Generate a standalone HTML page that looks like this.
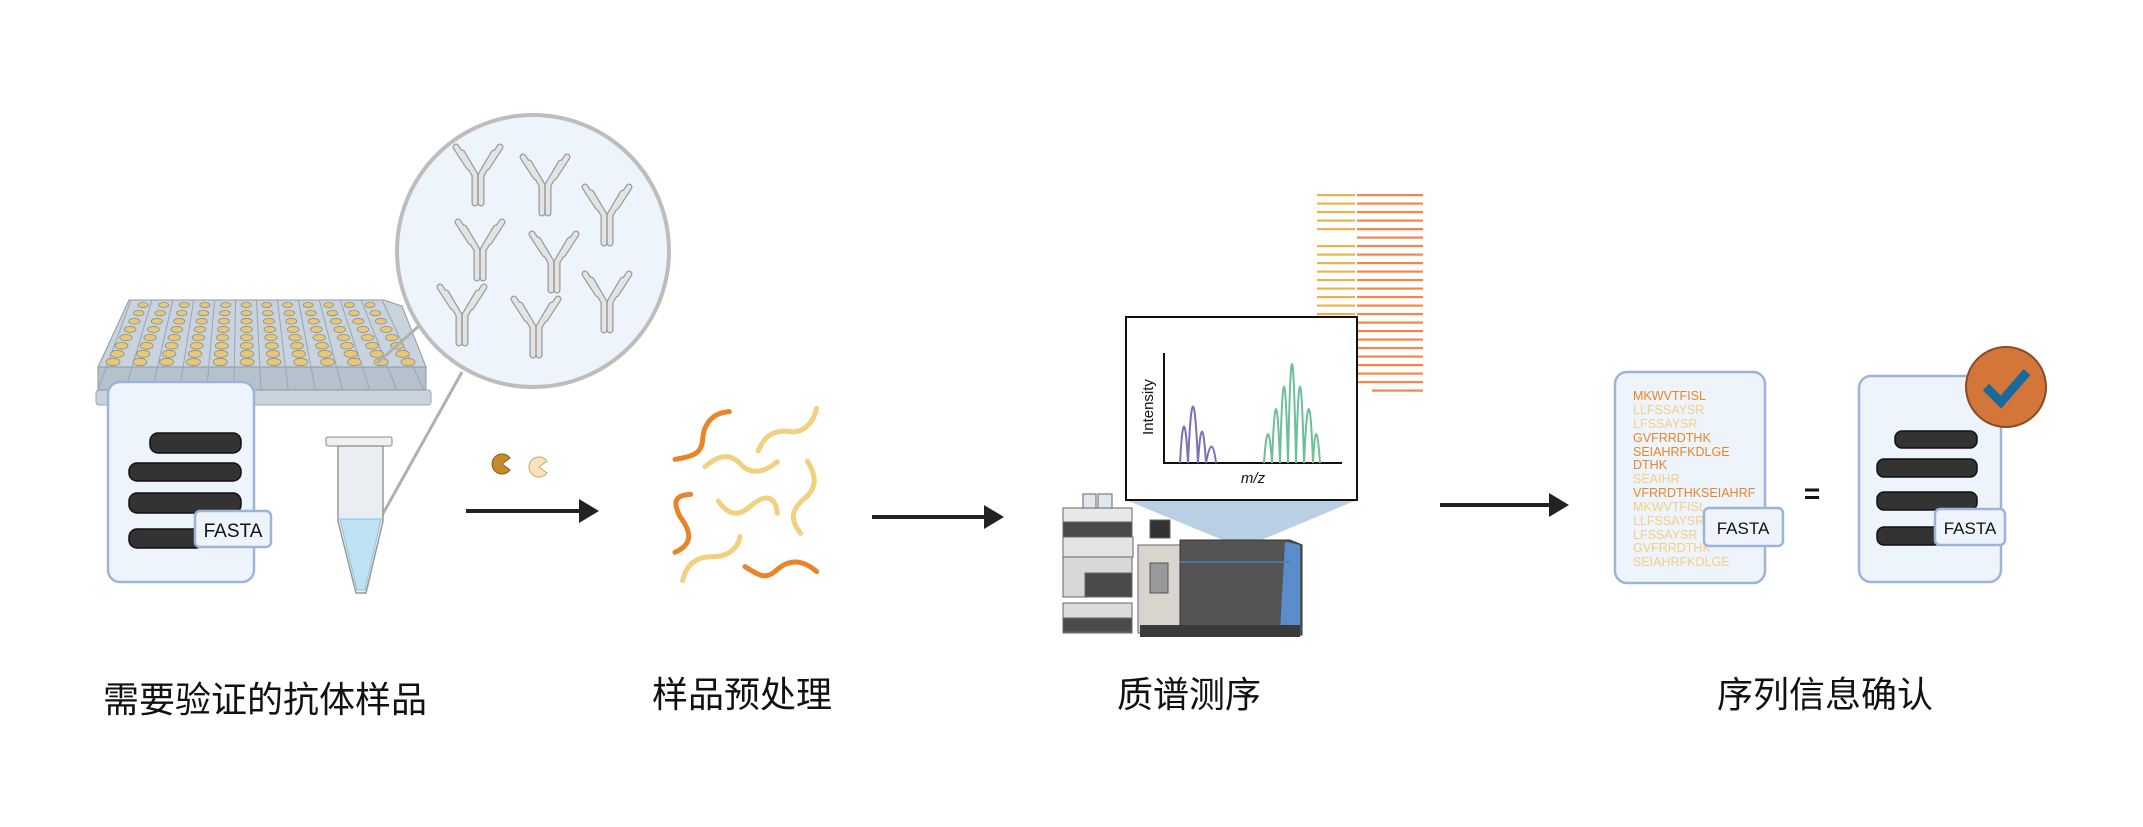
<!DOCTYPE html>
<html><head><meta charset="utf-8"><style>
html,body{margin:0;padding:0;background:#fff;}
svg{display:block;}
text{font-family:"Liberation Sans","Noto Sans CJK SC",sans-serif;}
</style></head><body>
<svg width="2143" height="827" viewBox="0 0 2143 827" xmlns="http://www.w3.org/2000/svg">
<defs>
<g id="ab">
  <g fill="none" stroke="#9a9a9a" stroke-width="7" stroke-linecap="round">
    <path d="M-3,2 V30 M3,2 V30 M-3,2 L-16,-20 M3,2 L16,-20 M-9,-6 L-22,-26 M9,-6 L22,-26"/>
  </g>
  <g fill="none" stroke="#e4e4e4" stroke-width="4.5" stroke-linecap="round">
    <path d="M-3,2 V30 M3,2 V30 M-3,2 L-16,-20 M3,2 L16,-20 M-9,-6 L-22,-26 M9,-6 L22,-26"/>
  </g>
</g>
<marker id="ah" markerWidth="20" markerHeight="24" refX="1" refY="12" orient="auto" markerUnits="userSpaceOnUse"><path d="M0,0 L20,12 L0,24z" fill="#222"/></marker>
</defs>

<!-- plate -->
<rect x="96" y="390" width="335" height="15" rx="3" fill="#c9d3dc" stroke="#9aa6b2"/>
<path d="M98,367 L426,367 L426,390 L98,390z" fill="#b5c1cc" stroke="#8c99a6"/>
<path d="M129,300 L384,300 L402,306 L426,367 L98,367z" fill="#c8d3dd" stroke="#8c99a6"/>
<g id="divs" stroke="#98a5b2" stroke-width="1"></g>
<g id="wells"></g>
<!-- circle and lines -->
<line x1="377" y1="363" x2="420" y2="325" stroke="#b0b0b0" stroke-width="3"/>
<line x1="462" y1="372" x2="375" y2="528" stroke="#b0b0b0" stroke-width="3"/>
<circle cx="533" cy="251" r="136" fill="#eef4fb" stroke="#bdbdbd" stroke-width="4"/>
<use href="#ab" x="478" y="173"/><use href="#ab" x="545" y="183"/><use href="#ab" x="607" y="213"/>
<use href="#ab" x="480" y="248"/><use href="#ab" x="554" y="260"/><use href="#ab" x="607" y="300"/>
<use href="#ab" x="462" y="313"/><use href="#ab" x="536" y="325"/>

<!-- doc card left -->
<rect x="108" y="382" width="146" height="200" rx="12" fill="#eef4fb" stroke="#9fb3da" stroke-width="2.5"/>
<rect x="150" y="433" width="91" height="20" rx="8" fill="#333" stroke="#111" stroke-width="1.5"/>
<rect x="129" y="463" width="112" height="18" rx="8" fill="#333" stroke="#111" stroke-width="1.5"/>
<rect x="129" y="493" width="112" height="20" rx="8" fill="#333" stroke="#111" stroke-width="1.5"/>
<rect x="129" y="529" width="75" height="19" rx="8" fill="#333" stroke="#111" stroke-width="1.5"/>
<rect x="195" y="511" width="76" height="36" rx="5" fill="#eef4fb" stroke="#9fb3da" stroke-width="2.5"/>
<text x="233" y="537" font-size="19" text-anchor="middle" fill="#111">FASTA</text>

<!-- tube -->
<rect x="326" y="437" width="66" height="9" rx="2" fill="#eef2f4" stroke="#888"/>
<path d="M338,446 L383,446 L383,521 L366,593 L356,593 L338,521z" fill="#e8eef1" stroke="#999" stroke-width="1.5"/>
<path d="M340,519 L381,519 L365,590 L357,590z" fill="#bfe2f3" stroke="#8cc4df"/>

<!-- pacmen -->
<path d="M502,464 L510,458 A10,10 0 1 0 510,470 Z" fill="#c58a2a" stroke="#8a5e18"/>
<path d="M539,467 L547,461 A10,10 0 1 0 547,473 Z" fill="#f7e3bd" stroke="#caa56a"/>

<!-- arrows -->
<line x1="466" y1="511" x2="580" y2="511" stroke="#222" stroke-width="4" marker-end="url(#ah)"/>
<line x1="872" y1="517" x2="985" y2="517" stroke="#222" stroke-width="4" marker-end="url(#ah)"/>
<line x1="1440" y1="505" x2="1550" y2="505" stroke="#222" stroke-width="4" marker-end="url(#ah)"/>

<!-- peptides -->
<g transform="translate(650,390) scale(0.3333)" fill="none" stroke-width="15" stroke-linecap="round">
<path stroke="#e8852a" d="M75,208 C130,200 155,190 158,150 C160,100 190,68 238,65"/>
<path stroke="#f3cf80" d="M325,183 C345,130 380,120 420,125 C460,130 490,100 500,55"/>
<path stroke="#f3cf80" d="M165,230 C200,200 235,185 270,220 C300,255 340,250 382,215"/>
<path stroke="#f3cf80" d="M472,213 C500,260 500,290 470,320 C420,360 420,390 452,430"/>
<path stroke="#e8852a" d="M122,313 C70,315 70,340 90,380 C120,420 135,460 75,487"/>
<path stroke="#f3cf80" d="M205,333 C230,370 260,385 300,350 C340,315 375,310 382,370"/>
<path stroke="#f3cf80" d="M98,572 C110,520 140,500 190,500 C240,500 265,470 270,440"/>
<path stroke="#e8852a" d="M285,530 C320,550 345,575 380,540 C420,505 460,510 500,545"/>
</g>

<!-- stripes -->
<g id="stripes"></g>

<!-- funnel -->
<path d="M1126,500 L1357,500 L1242,548z" fill="#b9cfe3"/>
<!-- chart -->
<rect x="1126" y="317" width="231" height="183" fill="#fff" stroke="#111" stroke-width="2"/>
<path d="M1164,353 V463 H1342" fill="none" stroke="#111" stroke-width="2"/>
<text transform="translate(1153,407) rotate(-90)" font-size="15" text-anchor="middle" fill="#111">Intensity</text>
<text x="1253" y="483" font-size="15" font-style="italic" text-anchor="middle" fill="#111">m/z</text>
<g fill="none" stroke-width="2">
<path stroke="#7d70b8" d="M1180,463 Q1184,390 1188,463 Q1193,350 1198,463 Q1202,400 1206,463 Q1212,430 1216,463"/>
<path stroke="#6fbf98" d="M1264,463 Q1268,405 1272,463 Q1276,355 1280,463 Q1284,310 1288,463 Q1292,265 1296,463 Q1300,310 1304,463 Q1309,355 1313,463 Q1316,405 1320,463"/>
</g>

<!-- LC stack -->
<g stroke="#666" stroke-width="1">
<rect x="1083" y="494" width="13" height="14" fill="#dfe9ef"/><rect x="1098" y="494" width="14" height="14" fill="#dfe9ef"/>
<rect x="1063" y="508" width="69" height="14" fill="#e8e8e8"/>
<rect x="1063" y="522" width="69" height="15" fill="#4a4a4a"/>
<rect x="1063" y="537" width="70" height="20" fill="#e4e4e4"/>
<rect x="1063" y="557" width="69" height="40" fill="#d8d8d8"/>
<rect x="1085" y="573" width="47" height="24" fill="#4a4a4a"/>
<rect x="1063" y="603" width="69" height="30" fill="#dcdcdc"/>
<rect x="1063" y="618" width="69" height="14" fill="#4a4a4a"/>
</g>
<!-- MS -->
<rect x="1138" y="545" width="42" height="88" fill="#d8d5ce" stroke="#666"/>
<rect x="1150" y="520" width="20" height="18" fill="#333" stroke="#666"/>
<rect x="1150" y="563" width="18" height="30" fill="#999" stroke="#555"/>
<path d="M1180,540 L1290,540 L1302,545 L1302,635 L1180,635z" fill="#545454" stroke="#333"/>
<path d="M1285,542 L1300,545 L1300,632 L1280,632z" fill="#5b8ccc"/>
<line x1="1180" y1="562" x2="1290" y2="562" stroke="#4b7fb8" stroke-width="1.5"/>
<rect x="1140" y="625" width="160" height="12" fill="#3a3a3a"/>

<!-- seq card -->
<rect x="1615" y="372" width="150" height="211" rx="12" fill="#eef4fb" stroke="#9fb3da" stroke-width="2.5"/>
<g font-size="12.5">
<text x="1633" y="400" fill="#e8852a">MKWVTFISL</text>
<text x="1633" y="414" fill="#f5cd85">LLFSSAYSR</text>
<text x="1633" y="428" fill="#f5cd85">LFSSAYSR</text>
<text x="1633" y="442" fill="#e8852a">GVFRRDTHK</text>
<text x="1633" y="456" fill="#e8852a">SEIAHRFKDLGE</text>
<text x="1633" y="469" fill="#e8852a">DTHK</text>
<text x="1633" y="483" fill="#f5cd85">SEAIHR</text>
<text x="1633" y="497" fill="#e8852a">VFRRDTHKSEIAHRF</text>
<text x="1633" y="511" fill="#f5cd85">MKWVTFISL</text>
<text x="1633" y="525" fill="#f5cd85">LLFSSAYSR</text>
<text x="1633" y="539" fill="#f5cd85">LFSSAYSR</text>
<text x="1633" y="552" fill="#f5cd85">GVFRRDTHK</text>
<text x="1633" y="566" fill="#f5cd85">SEIAHRFKDLGE</text>
</g>
<rect x="1704" y="508" width="79" height="38" rx="5" fill="#eef4fb" stroke="#9fb3da" stroke-width="2.5"/>
<text x="1743" y="534" font-size="17" text-anchor="middle" fill="#111">FASTA</text>
<text x="1812" y="503" font-size="28" font-weight="bold" text-anchor="middle" fill="#111">=</text>

<!-- right card -->
<rect x="1859" y="376" width="142" height="206" rx="12" fill="#eef4fb" stroke="#9fb3da" stroke-width="2.5"/>
<rect x="1895" y="431" width="82" height="17" rx="7" fill="#333" stroke="#111" stroke-width="1.5"/>
<rect x="1877" y="459" width="100" height="18" rx="7" fill="#333" stroke="#111" stroke-width="1.5"/>
<rect x="1877" y="492" width="100" height="18" rx="7" fill="#333" stroke="#111" stroke-width="1.5"/>
<rect x="1877" y="527" width="65" height="18" rx="7" fill="#333" stroke="#111" stroke-width="1.5"/>
<rect x="1935" y="509" width="70" height="36" rx="5" fill="#eef4fb" stroke="#9fb3da" stroke-width="2.5"/>
<text x="1970" y="534" font-size="17" text-anchor="middle" fill="#111">FASTA</text>
<circle cx="2006" cy="387" r="40" fill="#d4763a" stroke="#8a4a22" stroke-width="2"/>
<path d="M1986,387 L2001,402 L2027,372" fill="none" stroke="#176a9a" stroke-width="9"/>

<!-- labels -->
<text x="103" y="712" font-size="36" fill="#111">需要验证的抗体样品</text>
<text x="742" y="707" font-size="36" text-anchor="middle" fill="#111">样品预处理</text>
<text x="1189" y="707" font-size="36" text-anchor="middle" fill="#111">质谱测序</text>
<text x="1825" y="707" font-size="36" text-anchor="middle" fill="#111">序列信息确认</text>
</svg>
<script>
var ns="http://www.w3.org/2000/svg";
var w=document.getElementById("wells"),d=document.getElementById("divs");
for(var c=0;c<=12;c++){var x1=131+c*(382-131)/12,x2=98+c*(424-98)/12;
 var l=document.createElementNS(ns,"line");l.setAttribute("x1",x1);l.setAttribute("y1",300);l.setAttribute("x2",x2);l.setAttribute("y2",390);d.appendChild(l);}
for(var r=0;r<8;r++){var t=r/7;var y=305+t*57;var xl=137-t*30+6,xr=380+t*38-10;
 for(var c=0;c<12;c++){var x=xl+(xr-xl)*c/11;var e=document.createElementNS(ns,"ellipse");
 e.setAttribute("cx",x);e.setAttribute("cy",y);e.setAttribute("rx",5+t*2);e.setAttribute("ry",2.5+t*1.2);
 e.setAttribute("fill","#e8c878");e.setAttribute("stroke","#8e8e80");e.setAttribute("stroke-width","0.8");w.appendChild(e);}}
var s=document.getElementById("stripes");
for(var i=0;i<24;i++){var y=195+i*8.5;
 if(i!=5){var a=document.createElementNS(ns,"rect");a.setAttribute("x",1317);a.setAttribute("y",y-1);a.setAttribute("width",38);a.setAttribute("height",2.2);a.setAttribute("fill","#e9b54a");s.appendChild(a);}
 var b=document.createElementNS(ns,"rect");var bx=i==23?1372:1357;b.setAttribute("x",bx);b.setAttribute("y",y-1);b.setAttribute("width",1423-bx);b.setAttribute("height",2.2);b.setAttribute("fill","#f5864a");s.appendChild(b);}
</script>
</body></html>
